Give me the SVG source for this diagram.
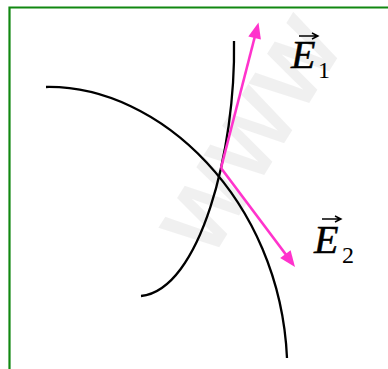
<svg xmlns="http://www.w3.org/2000/svg" width="388" height="369" viewBox="0 0 388 369">
<style>
.frame{fill:none;stroke:#118811;stroke-width:2.2}
.curve{fill:none;stroke:#000;stroke-width:2.3}
.vec{fill:none;stroke:#ff33cc;stroke-width:2.6}
.head{fill:#ff33cc;stroke:none}
.lbl{font-family:"Liberation Serif","Times New Roman",serif;fill:#000}
.big{stroke:#000;stroke-width:0.5}
.acc{fill:none;stroke:#000;stroke-width:1.4}
.wm{font-family:"Liberation Sans",Arial,sans-serif;font-weight:bold;fill:#000;fill-opacity:0.06}
</style>
<text class="wm" x="0" y="0" font-size="90" transform="translate(258,140) rotate(-58)" text-anchor="middle" dominant-baseline="middle">WWW</text>
<path class="frame" d="M9.5,369 V7.5 H388"/>
<g id="curve1"><path class="curve" d="M46,87 C160,85 280,200 287,358"/></g>
<g id="curve2"><path class="curve" d="M234,41 C236,150 200,290 141,296"/></g>
<g id="connectors">
<g id="E1-vector"><path class="vec" d="M221,168 L255,36"/><polygon class="head" points="258.5,22.5 260.9,39.6 248.3,36.4"/></g>
<g id="E2-vector"><path class="vec" d="M221,168 L287,256"/><polygon class="head" points="295,267 290.6,250.3 280.2,258.1"/></g>
</g>
<g id="label-E1">
<text class="lbl big" x="291" y="68" font-size="40" font-style="italic">E</text>
<text class="lbl" x="318" y="78" font-size="24">1</text>
<path class="acc" d="M299,36 H317 M312,33 L318,36 L312,39"/>
</g>
<g id="label-E2">
<text class="lbl big" x="314" y="253" font-size="40" font-style="italic">E</text>
<text class="lbl" x="342" y="263" font-size="24">2</text>
<path class="acc" d="M322,219 H340 M335,216 L341,219 L335,222"/>
</g>
</svg>
